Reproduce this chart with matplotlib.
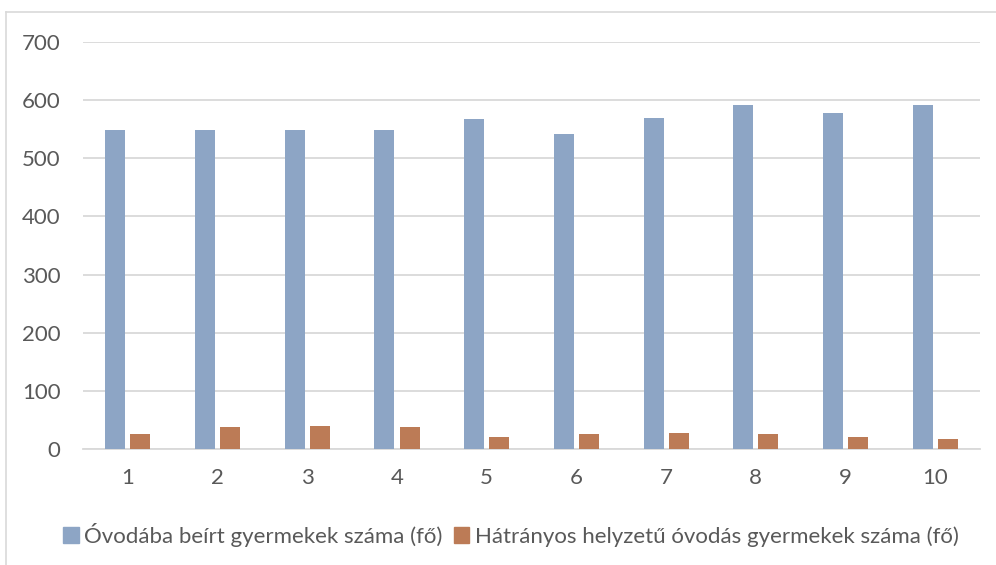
import numpy as np
import matplotlib.pyplot as plt
from matplotlib.lines import Line2D
from matplotlib.patches import Patch

plt.rcParams["font.family"] = ["Lato", "DejaVu Sans"]

categories = ["1", "2", "3", "4", "5", "6", "7", "8", "9", "10"]
enrolled = [548, 549, 548, 548, 567, 542, 570, 591, 578, 591]
disadvantaged = [25, 38, 39, 37, 20, 26, 28, 25, 20, 17]
labels = [
    "Óvodába beírt gyermekek száma (fő)",
    "Hátrányos helyzetű óvodás gyermekek száma (fő)",
]

blue = "#8DA5C5"
orange = "#BC7B56"
grid = "#D9D9D9"
text = "#595959"

fig = plt.figure(figsize=(9.96, 5.65), dpi=100)
ax = fig.add_axes([0.0833, 0.2053, 0.9007, 0.7204])

x = np.arange(len(categories))
w = 0.223
off = 0.14
ax.bar(x - off, enrolled, width=w, color=blue, zorder=3)
ax.bar(x + off, disadvantaged, width=w, color=orange, zorder=3)

ax.set_xlim(-0.5, len(categories) - 0.5)
ax.set_ylim(0, 700)
ax.set_yticks(range(0, 701, 100))
ax.set_xticks(x)
ax.set_xticklabels(categories)
ax.yaxis.grid(True, color=grid, linewidth=1.3, zorder=0)
ax.tick_params(axis="both", length=0, labelsize=16, labelcolor=text)
ax.tick_params(axis="x", pad=14)
ax.tick_params(axis="y", pad=16)
for s in ["top", "right", "left"]:
    ax.spines[s].set_visible(False)
ax.spines["bottom"].set_color(grid)
ax.spines["bottom"].set_linewidth(1.3)

# chart outer border (top and left edges visible)
fig.add_artist(Line2D([6 / 996, 1], [1 - 12 / 565] * 2, color=grid, lw=1.2))
fig.add_artist(Line2D([6 / 996] * 2, [0, 1 - 12 / 565], color=grid, lw=1.2))

handles = [Patch(color=blue), Patch(color=orange)]
fig.legend(handles, labels, loc="center", bbox_to_anchor=(0.513, 1 - 535 / 565),
           ncol=2, frameon=False, fontsize=16, labelcolor=text,
           handlelength=0.7, handleheight=0.7, handletextpad=0.25,
           columnspacing=0.5)

fig.savefig("out.png", dpi=100)
